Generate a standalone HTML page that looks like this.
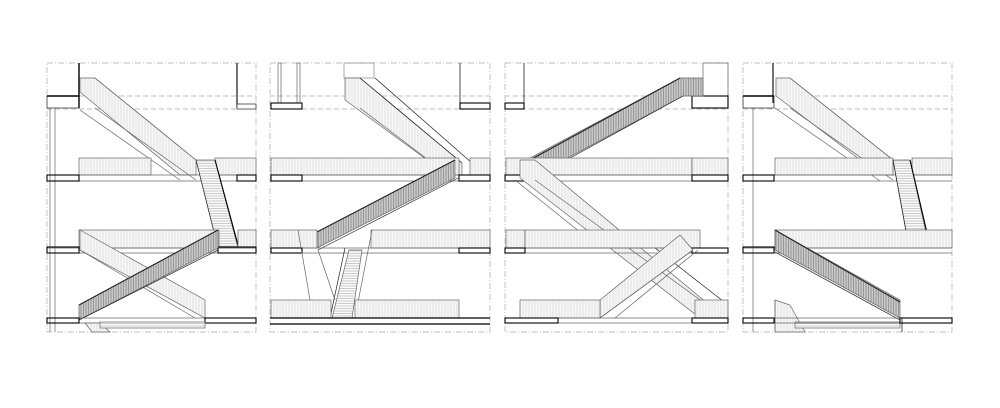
<!DOCTYPE html>
<html><head><meta charset="utf-8"><style>
html,body{margin:0;padding:0;background:#fff;}
svg{display:block;}
</style></head><body>
<svg width="1000" height="408" viewBox="0 0 1000 408" xmlns="http://www.w3.org/2000/svg">
<defs>
<pattern id="vl" width="3" height="10" patternUnits="userSpaceOnUse"><rect width="3" height="10" fill="#f7f7f7"/><line x1="1" y1="0" x2="1" y2="10" stroke="#d4d4d4" stroke-width="0.6"/></pattern>
<pattern id="vd" width="2.5" height="10" patternUnits="userSpaceOnUse"><rect width="3" height="10" fill="#c8c8c8"/><line x1="1" y1="0" x2="1" y2="10" stroke="#777" stroke-width="0.6"/></pattern>
<pattern id="hz" width="10" height="2.5" patternUnits="userSpaceOnUse"><rect width="10" height="3" fill="#fbfbfb"/><line x1="0" y1="1" x2="10" y2="1" stroke="#999" stroke-width="0.5"/></pattern>
</defs>
<g fill="none" stroke="#666" stroke-width="0.7">

<!-- ============ PANEL 1 ============ -->
<rect x="47" y="63" width="209" height="269" stroke="#aaa" stroke-dasharray="6,2,1,2"/>
<line x1="47" y1="96" x2="256" y2="96" stroke="#aaa" stroke-dasharray="5,3"/>
<line x1="47" y1="109" x2="256" y2="109" stroke="#aaa" stroke-dasharray="5,3"/>
<rect x="47" y="96" width="32" height="12" fill="#fff" stroke="#222"/>
<line x1="47" y1="96" x2="79" y2="96" stroke="#000" stroke-width="1.6"/>
<line x1="79" y1="63" x2="79" y2="108" stroke="#000" stroke-width="1.4"/>
<line x1="237" y1="63" x2="237" y2="108" stroke="#000" stroke-width="1.1"/>
<rect x="237" y="104" width="19" height="5" fill="#fff" stroke="#222"/>
<line x1="50" y1="108" x2="50" y2="332"/><line x1="55" y1="108" x2="55" y2="332"/>
<polygon points="80,78 95,78 196,160 196,175 180,175 80,92" fill="url(#vl)"/>
<line x1="95" y1="78" x2="196" y2="160"/>
<line x1="80" y1="110" x2="180" y2="180"/>
<line x1="95" y1="108" x2="196" y2="180"/>
<rect x="79" y="158" width="72" height="17" fill="url(#vl)"/>
<rect x="215" y="158" width="41" height="17" fill="url(#vl)"/>
<line x1="47" y1="175" x2="256" y2="175"/><line x1="47" y1="181" x2="256" y2="181"/>
<rect x="47" y="175" width="32" height="6" stroke="#000" stroke-width="1.1"/>
<rect x="237" y="175" width="19" height="6" stroke="#000" stroke-width="1.1"/>
<polygon points="196,160 215,160 238,248 218,248" fill="url(#hz)"/>
<line x1="196" y1="160" x2="218" y2="248" stroke="#333"/>
<line x1="215" y1="160" x2="238" y2="245" stroke="#000" stroke-width="1.1"/>
<rect x="79" y="230" width="140" height="18" fill="url(#vl)"/>
<rect x="238" y="230" width="18" height="18" fill="url(#vl)"/>
<line x1="47" y1="248" x2="256" y2="248"/><line x1="47" y1="253" x2="256" y2="253"/>
<rect x="47" y="247" width="32" height="6" stroke="#000" stroke-width="1.1"/>
<rect x="218" y="247" width="38" height="6" stroke="#000" stroke-width="1.1"/>
<polygon points="80,230 205,300 205,318 80,250" fill="url(#vl)"/>
<line x1="80" y1="250" x2="195" y2="318"/>
<polygon points="79,305 218,230 218,248 79,320" fill="url(#vd)"/>
<line x1="79" y1="305" x2="218" y2="230" stroke="#222" stroke-width="1.1"/>
<line x1="79" y1="320" x2="218" y2="250" stroke="#222"/>
<line x1="47" y1="318" x2="256" y2="318"/><line x1="47" y1="323" x2="256" y2="323"/>
<rect x="47" y="318" width="32" height="5" stroke="#000" stroke-width="1.1"/>
<rect x="205" y="318" width="51" height="5" stroke="#000" stroke-width="1.1"/>
<polygon points="85,323 100,323 110,332 92,332" fill="url(#vl)"/>
<rect x="100" y="322" width="105" height="6" fill="url(#hz)"/>

<!-- ============ PANEL 2 ============ -->
<rect x="270" y="63" width="220" height="269" stroke="#aaa" stroke-dasharray="6,2,1,2"/>
<line x1="270" y1="96" x2="490" y2="96" stroke="#aaa" stroke-dasharray="5,3"/>
<line x1="270" y1="109" x2="490" y2="109" stroke="#aaa" stroke-dasharray="5,3"/>
<rect x="278" y="63" width="3" height="40"/><rect x="297" y="63" width="3" height="40"/>
<rect x="271" y="103" width="31" height="6" stroke="#000" stroke-width="1.1"/>
<line x1="460" y1="63" x2="460" y2="103" stroke="#000"/>
<rect x="460" y="103" width="30" height="6" stroke="#000" stroke-width="1.1"/>
<rect x="344" y="63" width="30" height="15" stroke="#888"/>
<polygon points="345,78 360,78 462,163 462,175 448,175 345,100" fill="url(#vl)"/>
<line x1="375" y1="78" x2="472" y2="163" stroke="#222"/>
<line x1="360" y1="78" x2="462" y2="163" stroke="#222"/>
<line x1="360" y1="108" x2="448" y2="175"/>
<rect x="271" y="158" width="188" height="17" fill="url(#vl)"/>
<rect x="470" y="158" width="20" height="17" fill="url(#vl)"/>
<line x1="270" y1="175" x2="490" y2="175"/><line x1="270" y1="181" x2="490" y2="181"/>
<rect x="271" y="175" width="31" height="6" stroke="#000" stroke-width="1.1"/>
<rect x="459" y="175" width="31" height="6" stroke="#000" stroke-width="1.1"/>
<polygon points="317,232 455,160 455,178 317,248" fill="url(#vd)"/>
<line x1="317" y1="232" x2="455" y2="160" stroke="#222" stroke-width="1.1"/>
<line x1="318" y1="250" x2="458" y2="178" stroke="#222"/>
<rect x="271" y="230" width="46" height="18" fill="url(#vl)"/>
<rect x="371" y="230" width="119" height="18" fill="url(#vl)"/>
<line x1="270" y1="248" x2="490" y2="248"/><line x1="270" y1="253" x2="490" y2="253"/>
<rect x="271" y="248" width="31" height="5" stroke="#000" stroke-width="1.1"/>
<rect x="459" y="248" width="31" height="5" stroke="#000" stroke-width="1.1"/>
<polygon points="349,250 362,250 352,318 332,318" fill="url(#hz)"/>
<line x1="345" y1="248" x2="330" y2="318" stroke="#222"/>
<line x1="372" y1="230" x2="355" y2="318"/>
<line x1="318" y1="250" x2="335" y2="300"/>
<line x1="298" y1="230" x2="310" y2="300"/>
<rect x="271" y="300" width="60" height="18" fill="url(#vl)"/>
<rect x="355" y="300" width="104" height="18" fill="url(#vl)"/>
<line x1="270" y1="318" x2="490" y2="318" stroke="#000" stroke-width="1.3"/>
<line x1="270" y1="324" x2="490" y2="324" stroke="#000" stroke-width="1.3"/>

<!-- ============ PANEL 3 ============ -->
<rect x="505" y="63" width="223" height="269" stroke="#aaa" stroke-dasharray="6,2,1,2"/>
<line x1="505" y1="96" x2="728" y2="96" stroke="#aaa" stroke-dasharray="5,3"/>
<line x1="505" y1="109" x2="728" y2="109" stroke="#aaa" stroke-dasharray="5,3"/>
<line x1="524" y1="63" x2="524" y2="103" stroke="#000"/>
<rect x="505" y="103" width="19" height="6" stroke="#000" stroke-width="1.1"/>
<rect x="703" y="63" width="25" height="33"/>
<rect x="692" y="96" width="36" height="12" stroke="#000" stroke-width="1.1"/>
<polygon points="530,158 680,78 703,78 703,96 683,96 530,178" fill="url(#vd)"/>
<line x1="530" y1="160" x2="680" y2="78" stroke="#222" stroke-width="1.1"/>
<line x1="530" y1="180" x2="683" y2="96" stroke="#222"/>
<rect x="506" y="158" width="186" height="17" fill="url(#vl)"/>
<rect x="692" y="158" width="36" height="17" fill="url(#vl)"/>
<line x1="505" y1="175" x2="728" y2="175"/><line x1="505" y1="181" x2="728" y2="181"/>
<rect x="505" y="175" width="25" height="6" stroke="#000" stroke-width="1.1"/>
<rect x="692" y="175" width="36" height="6" stroke="#000" stroke-width="1.1"/>
<polygon points="520,160 535,160 725,318 700,318 520,178" fill="url(#vl)"/>
<line x1="515" y1="180" x2="600" y2="248"/>
<line x1="535" y1="180" x2="725" y2="318"/>
<line x1="632" y1="230" x2="728" y2="305" stroke="#222"/>
<rect x="506" y="230" width="19" height="18" fill="url(#vl)"/>
<rect x="525" y="230" width="175" height="18" fill="url(#vl)"/>
<line x1="505" y1="248" x2="728" y2="248"/><line x1="505" y1="253" x2="728" y2="253"/>
<rect x="505" y="248" width="20" height="5" stroke="#000" stroke-width="1.1"/>
<rect x="692" y="248" width="36" height="5" stroke="#000" stroke-width="1.1"/>
<polygon points="600,300 680,235 693,250 600,318" fill="url(#vl)"/>
<line x1="600" y1="318" x2="693" y2="250"/>
<line x1="615" y1="318" x2="698" y2="250"/>
<rect x="520" y="300" width="80" height="18" fill="url(#vl)"/>
<rect x="695" y="300" width="33" height="18" fill="url(#vl)"/>
<line x1="505" y1="318" x2="728" y2="318"/><line x1="505" y1="323" x2="728" y2="323"/>
<rect x="505" y="318" width="53" height="5" stroke="#000" stroke-width="1.1"/>
<rect x="692" y="318" width="36" height="5" stroke="#000" stroke-width="1.1"/>

<!-- ============ PANEL 4 ============ -->
<rect x="743" y="63" width="209" height="269" stroke="#aaa" stroke-dasharray="6,2,1,2"/>
<line x1="743" y1="96" x2="952" y2="96" stroke="#aaa" stroke-dasharray="5,3"/>
<line x1="743" y1="109" x2="952" y2="109" stroke="#aaa" stroke-dasharray="5,3"/>
<line x1="773" y1="63" x2="773" y2="103" stroke="#000" stroke-width="1.1"/>
<rect x="743" y="96" width="31" height="12" stroke="#222"/>
<line x1="743" y1="96" x2="774" y2="96" stroke="#000" stroke-width="1.6"/>
<line x1="753" y1="108" x2="753" y2="332"/>
<polygon points="776,78 790,78 893,160 893,175 880,175 776,96" fill="url(#vl)"/>
<line x1="790" y1="78" x2="893" y2="160"/>
<line x1="775" y1="108" x2="880" y2="181"/>
<line x1="790" y1="108" x2="893" y2="180"/>
<rect x="775" y="158" width="118" height="17" fill="url(#vl)"/>
<rect x="912" y="158" width="40" height="17" fill="url(#vl)"/>
<line x1="743" y1="175" x2="952" y2="175"/><line x1="743" y1="181" x2="952" y2="181"/>
<rect x="743" y="175" width="31" height="6" stroke="#000" stroke-width="1.1"/>
<polygon points="893,160 910,160 928,242 908,242" fill="url(#hz)"/>
<line x1="893" y1="160" x2="908" y2="242" stroke="#222"/>
<line x1="910" y1="160" x2="928" y2="237" stroke="#000" stroke-width="1.1"/>
<polyline points="908,242 928,242 928,236" stroke="#000"/>
<rect x="775" y="230" width="177" height="18" fill="url(#vl)"/>
<line x1="743" y1="248" x2="952" y2="248"/><line x1="743" y1="253" x2="952" y2="253"/>
<rect x="743" y="247" width="31" height="6" stroke="#000" stroke-width="1.1"/>
<polygon points="775,230 900,300 900,318 775,250" fill="url(#vd)"/>
<line x1="775" y1="230" x2="900" y2="302" stroke="#222" stroke-width="1.1"/>
<line x1="775" y1="252" x2="900" y2="320" stroke="#222"/>
<polygon points="775,300 790,305 805,332 775,332" fill="url(#vl)"/>
<line x1="775" y1="300" x2="775" y2="332"/>
<rect x="795" y="322" width="105" height="6" fill="url(#hz)"/>
<line x1="743" y1="318" x2="952" y2="318"/><line x1="743" y1="323" x2="952" y2="323"/>
<rect x="743" y="318" width="31" height="5" stroke="#000" stroke-width="1.1"/>
<rect x="900" y="318" width="52" height="5" stroke="#000" stroke-width="1.1"/>
<line x1="902" y1="318" x2="902" y2="332" stroke="#000"/>
</g>
</svg>
</body></html>
